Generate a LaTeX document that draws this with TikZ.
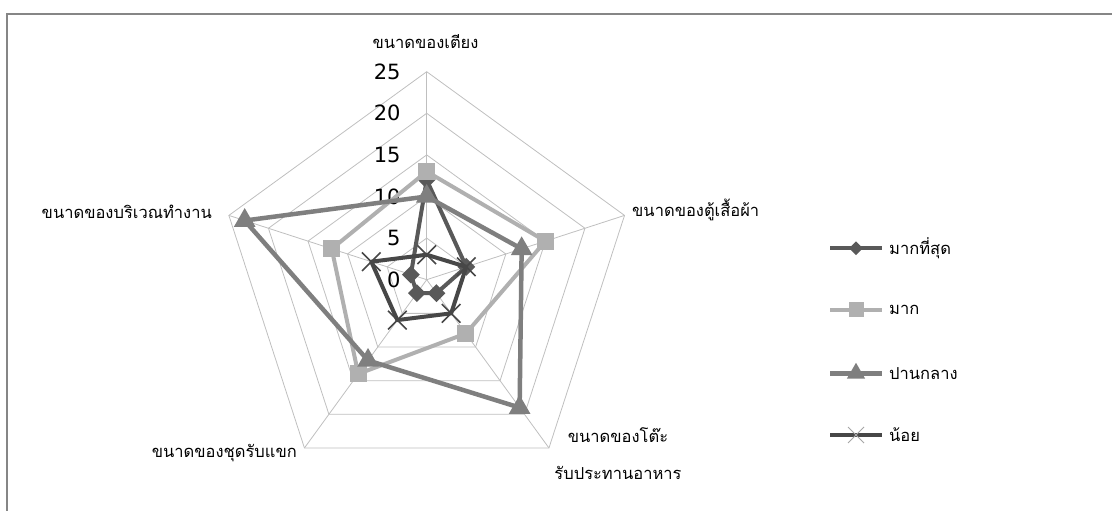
\documentclass[tikz,border=0pt]{standalone}
\usepackage{fontspec}
\newfontfamily\thaifont[Script=Thai]{Loma}
\newfontfamily\numfont{DejaVu Sans}
\usetikzlibrary{shapes.geometric,shapes.misc,calc}
\definecolor{gridgray}{HTML}{BFBFBF}
\definecolor{framegray}{HTML}{868686}
\definecolor{mostgray}{HTML}{595959}
\definecolor{moregray}{HTML}{B0B0B0}
\definecolor{midgray}{HTML}{7F7F7F}
\definecolor{lessgray}{HTML}{474747}
\definecolor{crossgray}{HTML}{A6A6A6}

\tikzset{
    gridline/.style={gridgray, line width=0.8pt},
    axislabel/.style={font=\thaifont\fontsize{16.5}{37}\selectfont, inner sep=0pt},
    ticklabel/.style={font=\numfont\fontsize{21}{21}\selectfont, inner sep=0pt, anchor=east, xshift=-26pt},
    mostline/.style={mostgray, line width=4pt, line join=round},
    moreline/.style={moregray, line width=4pt, line join=round},
    midline/.style={midgray, line width=4.5pt, line join=round},
    lessline/.style={lessgray, line width=4pt, line join=round},
    mostmark/.style={diamond, fill=mostgray, minimum size=18pt, inner sep=0pt},
    moremark/.style={rectangle, fill=moregray, minimum size=17pt, inner sep=0pt},
    midmark/.style={regular polygon, regular polygon sides=3, fill=midgray, minimum size=25pt, inner sep=0pt},
    lessmark/.style={cross out, draw=lessgray, line width=1.6pt, minimum size=17pt, inner sep=0pt},
}

\begin{document}
\begin{tikzpicture}[x=1pt, y=1pt]
    \useasboundingbox (0,0) rectangle (1112,511);
    % frame
    \draw[framegray, line width=1.8pt] (7,0) -- (7,497) -- (1112,497);

    \begin{scope}[shift={(426.7pt,231.3pt)}, x=8.32pt, y=8.32pt]
        % grid
        \foreach \r in {5,10,...,25}
            \draw[gridline] (90:\r) -- (18:\r) -- (-54:\r) -- (-126:\r) -- (162:\r) -- cycle;
        \foreach \a in {90,18,-54,-126,162}
            \draw[gridline] (0,0) -- (\a:25);
        \foreach \v in {0,5,...,25}
            \node[ticklabel] (tick\v) at (0,\v) {\v};

        % data points
        \foreach \v [count=\i, evaluate=\i as \a using 162-72*\i] in {12,5,2,2,2}
            \coordinate (most\i) at (\a:\v);
        \foreach \v [count=\i, evaluate=\i as \a using 162-72*\i] in {13,15,8,14,12}
            \coordinate (more\i) at (\a:\v);
        \foreach \v [count=\i, evaluate=\i as \a using 162-72*\i] in {10,12,19,12,23}
            \coordinate (mid\i) at (\a:\v);
        \foreach \v [count=\i, evaluate=\i as \a using 162-72*\i] in {3,5,5,6,7}
            \coordinate (less\i) at (\a:\v);

        % series
        \draw[mostline] (most1) -- (most2) -- (most3) -- (most4) -- (most5) -- cycle;
        \foreach \i in {1,...,5} \node[mostmark] (mostm\i) at (most\i) {};
        \draw[moreline] (more1) -- (more2) -- (more3) -- (more4) -- (more5) -- cycle;
        \foreach \i in {1,...,5} \node[moremark] (morem\i) at (more\i) {};
        \draw[midline] (mid1) -- (mid2) -- (mid3) -- (mid4) -- (mid5) -- cycle;
        \foreach \i in {1,...,5} \node[midmark] (midm\i) at (mid\i) {};
        \draw[lessline] (less1) -- (less2) -- (less3) -- (less4) -- (less5) -- cycle;
        \foreach \i in {1,...,5} \node[lessmark] (lessm\i) at (less\i) {};
    \end{scope}

    % Add labels
    \node[axislabel] (bed) at (425.5,469) {ขนาดของเตียง};
    \node[axislabel, anchor=west] (wardrobe) at (632,301) {ขนาดของตู้เสื้อผ้า};
    \node[axislabel, align=center] (dining) at (618,57.5) {ขนาดของโต๊ะ\\รับประทานอาหาร};
    \node[axislabel, anchor=east] (sofa) at (297,58) {ขนาดของชุดรับแขก};
    \node[axislabel, anchor=east] (desk) at (212,299) {ขนาดของบริเวณทำงาน};

    % legend
    \coordinate (lg1a) at (830,262.7);  \coordinate (lg1b) at (882,262.7);
    \coordinate (lg2a) at (830,201);    \coordinate (lg2b) at (882,201);
    \coordinate (lg3a) at (830,137.7);  \coordinate (lg3b) at (882,137.7);
    \coordinate (lg4a) at (830,76);     \coordinate (lg4b) at (882,76);
    \draw[mostline] (lg1a) -- (lg1b);
    \node[mostmark, minimum size=14pt] (lgm1) at ($(lg1a)!0.5!(lg1b)$) {};
    \draw[moreline] (lg2a) -- (lg2b);
    \node[moremark, minimum size=15pt] (lgm2) at ($(lg2a)!0.5!(lg2b)$) {};
    \draw[midline] (lg3a) -- (lg3b);
    \node[midmark, minimum size=21pt] (lgm3) at ($(lg3a)!0.5!(lg3b)$) {};
    \draw[lessline] (lg4a) -- (lg4b);
    \node[lessmark, draw=crossgray, line width=1pt, minimum size=15pt] (lgm4) at ($(lg4a)!0.5!(lg4b)$) {};
    \node[axislabel, anchor=west] (most) at (889,262.7) {มากที่สุด};
    \node[axislabel, anchor=west] (more) at (889,201) {มาก};
    \node[axislabel, anchor=west] (mid) at (889,137.7) {ปานกลาง};
    \node[axislabel, anchor=west] (less) at (889,76) {น้อย};
\end{tikzpicture}
\end{document}
